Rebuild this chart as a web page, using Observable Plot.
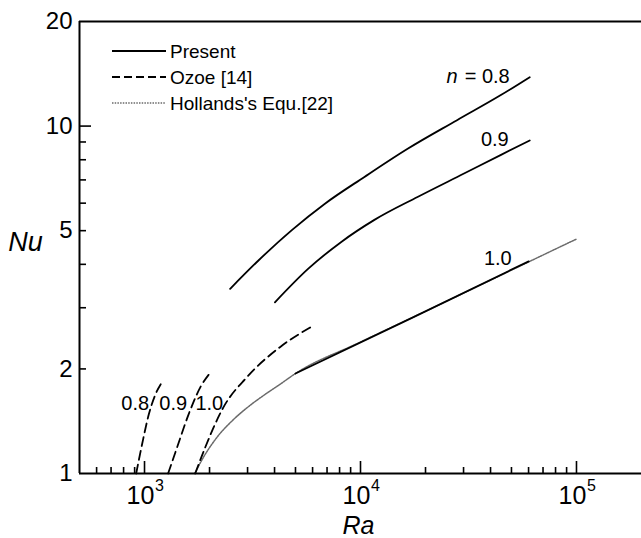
<!DOCTYPE html>
<html><head><meta charset="utf-8">
<script src="https://cdn.jsdelivr.net/npm/d3@7"></script>
<script src="https://cdn.jsdelivr.net/npm/@observablehq/plot@0.6"></script>
<style>
body{margin:0;background:#fff;}
#chart svg{display:block;}
</style></head><body><div id="chart"></div>
<script>
// ---- data ----
const present08Ra = [2490, 3350, 4810, 6820, 10430, 16460, 27990, 44650, 60740];
const present08Nu = [3.40, 4.09, 5.02, 5.97, 7.14, 8.59, 10.4, 12.28, 13.83];
const present09Ra = [4016, 5716, 8147, 11600, 18370, 30150, 44500, 60740];
const present09Nu = [3.11, 3.88, 4.64, 5.37, 6.25, 7.30, 8.25, 9.09];
const present10Ra = [5000, 17400, 60100];
const present10Nu = [1.94, 2.81, 4.08];

const ozoe08Ra = [915, 976, 1047, 1124, 1197];
const ozoe08Nu = [1.0, 1.22, 1.48, 1.69, 1.82];
const ozoe09Ra = [1286, 1416, 1600, 1812, 2014];
const ozoe09Nu = [1.0, 1.19, 1.48, 1.77, 1.95];
const ozoe10Ra = [1717, 1911, 2318, 2970, 4237, 6027];
const ozoe10Nu = [1.0, 1.19, 1.55, 1.89, 2.31, 2.66];

const hollandsRa = [1708, 1875, 2163, 2582, 3078, 3671, 4317, 4875, 10000, 20000, 50000, 100000];
const hollandsNu = [1.0, 1.114, 1.27, 1.43, 1.57, 1.70, 1.82, 1.92, 2.39, 2.93, 3.85, 4.73];

const legendLabels = ["Present", "Ozoe [14]", "Hollands's Equ.[22]"];
const nValues = ["0.8", "0.9", "1.0"];

const xMajorTicks = [1000, 10000, 100000];
const xMinorTicks = [600, 700, 800, 900, 2000, 3000, 4000, 5000, 6000, 7000, 8000, 9000,
                     20000, 30000, 40000, 50000, 60000, 70000, 80000, 90000];
const yMajorTicks = [10];
const yMinorTicks = [2, 3, 4, 5, 6, 7, 8, 9];
const yTickLabels = [1, 2, 5, 10, 20];

// ---- build ----
const font = "'Liberation Sans', Arial, Helvetica, sans-serif";
const toRows = (ra, nu) => ra.map((r, i) => ({Ra: r, Nu: nu[i]}));
const p08 = toRows(present08Ra, present08Nu);
const p09 = toRows(present09Ra, present09Nu);
const p10 = toRows(present10Ra, present10Nu);
const o08 = toRows(ozoe08Ra, ozoe08Nu);
const o09 = toRows(ozoe09Ra, ozoe09Nu);
const o10 = toRows(ozoe10Ra, ozoe10Nu);
const hol = toRows(hollandsRa, hollandsNu);

const solid = {x: "Ra", y: "Nu", stroke: "#000", strokeWidth: 1.8, curve: "monotone-x"};
const dashed = {...solid, strokeDasharray: "9,5"};
const dotted = {x: "Ra", y: "Nu", stroke: "#6a6a6a", strokeWidth: 1.5, strokeDasharray: "1.5,1.2", curve: "monotone-x"};

const last = a => [a[a.length - 1]];
const first = a => [a[0]];
const lbl = {x: "Ra", y: "Nu", fontSize: 20, fill: "#000", lineAnchor: "middle"};

const chart = Plot.plot({
  width: 641, height: 538,
  marginLeft: 79, marginRight: 0, marginTop: 21, marginBottom: 65,
  x: {type: "log", domain: [500, 200000], axis: null},
  y: {type: "log", domain: [1, 20], axis: null},
  style: {fontFamily: font, background: "#fff", color: "#000"},
  marks: [
    Plot.line(hol, dotted),
    Plot.line(o08, dashed),
    Plot.line(o09, dashed),
    Plot.line(o10, dashed),
    Plot.line(p08, solid),
    Plot.line(p09, solid),
    Plot.line(p10, solid),
    // frame
    Plot.ruleY([1], {stroke: "#000", strokeWidth: 2}),
    Plot.ruleY([20], {stroke: "#000", strokeWidth: 2}),
    Plot.ruleX([500], {stroke: "#000", strokeWidth: 2}),
    // x ticks (inward)
    Plot.ruleX(xMajorTicks, {x: d => d, y1: 1, y2: 1, insetTop: -12, stroke: "#000", strokeWidth: 1.6}),
    Plot.ruleX(xMinorTicks, {x: d => d, y1: 1, y2: 1, insetTop: -6, stroke: "#000", strokeWidth: 1.6}),
    // y ticks (inward)
    Plot.ruleY(yMajorTicks, {y: d => d, x1: 500, x2: 500, insetRight: -12, stroke: "#000", strokeWidth: 1.6}),
    Plot.ruleY(yMinorTicks, {y: d => d, x1: 500, x2: 500, insetRight: -7, stroke: "#000", strokeWidth: 1.6}),
    // y tick labels
    Plot.text(yTickLabels, {y: d => d, text: d => String(d), frameAnchor: "left", textAnchor: "end", lineAnchor: "middle", dx: -7, fontSize: 24}),
    // x tick labels 10^k
    Plot.text(xMajorTicks, {x: d => d, text: () => "10", frameAnchor: "bottom", lineAnchor: "middle", textAnchor: "middle", dy: 22, dx: -4, fontSize: 25}),
    Plot.text(xMajorTicks, {x: d => d, text: d => String(Math.round(Math.log10(d))), frameAnchor: "bottom", lineAnchor: "middle", textAnchor: "middle", dy: 12, dx: 15, fontSize: 16}),
    // axis titles
    Plot.text(["Ra"], {frameAnchor: "bottom", text: d => d, lineAnchor: "middle", textAnchor: "middle", dy: 52, dx: -2, fontSize: 25, fontStyle: "italic"}),
    Plot.text(["Nu"], {frameAnchor: "left", text: d => d, lineAnchor: "middle", textAnchor: "middle", dx: -54, dy: -5, fontSize: 27, fontStyle: "italic"}),
    // curve labels
    Plot.text(last(p08), {...lbl, text: () => "= " + nValues[0], textAnchor: "end", dx: -20, dy: -1}),
    Plot.text(last(p08), {...lbl, text: () => "n", textAnchor: "end", dx: -72, dy: -1, fontStyle: "italic"}),
    Plot.text(last(p09), {...lbl, text: () => nValues[1], textAnchor: "end", dx: -21, dy: -1}),
    Plot.text(last(p10), {...lbl, text: () => nValues[2], textAnchor: "end", dx: -17, dy: -3}),
    Plot.text(first(o08), {...lbl, text: () => nValues[0], textAnchor: "end", dx: 13, dy: -70}),
    Plot.text(first(o09), {...lbl, text: () => nValues[1], textAnchor: "end", dx: 19, dy: -70}),
    Plot.text(first(o10), {...lbl, text: () => nValues[2], textAnchor: "end", dx: 28, dy: -70})
  ]
});

// legend inside plot area
const svg = d3.select(chart);
const lg = svg.append("g").attr("font-family", font).attr("font-size", 19).attr("text-anchor", "start");
const styles = [
  {dash: null, stroke: "#000", w: 1.8},
  {dash: "8,4", stroke: "#000", w: 1.8},
  {dash: "1.5,1.2", stroke: "#6a6a6a", w: 1.5}
];
legendLabels.forEach((t, i) => {
  const y = 51 + i * 26;
  lg.append("line").attr("x1", 112).attr("x2", 166).attr("y1", y).attr("y2", y)
    .attr("stroke", styles[i].stroke).attr("stroke-width", styles[i].w)
    .attr("stroke-dasharray", styles[i].dash);
  lg.append("text").attr("x", 170).attr("y", y).attr("dy", "0.35em").attr("fill", "#000")
    .attr("text-anchor", "start").text(t);
});

document.getElementById("chart").appendChild(chart);
</script>
</body></html>
